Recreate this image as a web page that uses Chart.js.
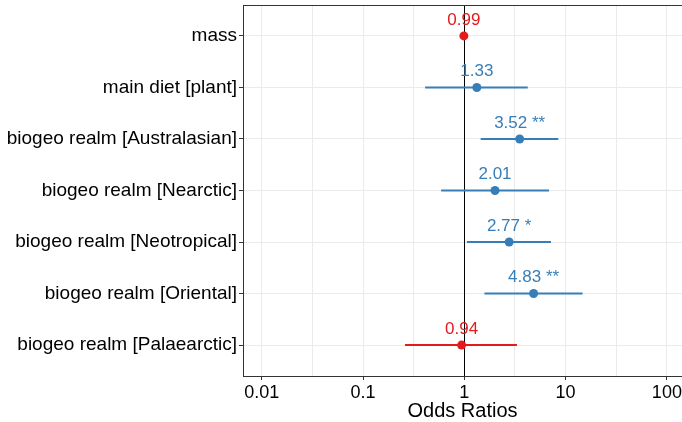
<!DOCTYPE html>
<html>
<head>
<meta charset="utf-8">
<script src="https://cdn.jsdelivr.net/npm/chart.js@4.4.1/dist/chart.umd.min.js"></script>
<style>
  body { margin: 0; background: #fff; }
  #wrap { width: 682px; height: 422px; }
</style>
</head>
<body>
<div id="wrap"><canvas id="chart"></canvas></div>
<script>
const terms = ['mass', 'main diet [plant]', 'biogeo realm [Australasian]', 'biogeo realm [Nearctic]',
  'biogeo realm [Neotropical]', 'biogeo realm [Oriental]', 'biogeo realm [Palaearctic]'];
const estimates = [0.99, 1.33, 3.52, 2.01, 2.77, 4.83, 0.94];
const ciLow = [0.98, 0.41, 1.45, 0.59, 1.06, 1.58, 0.26];
const ciHigh = [1.00, 4.23, 8.47, 6.86, 7.17, 14.7, 3.31];
const stars = ['', '', ' **', '', ' *', ' **', ''];
const tickValues = [0.01, 0.1, 1, 10, 100];
const tickLabels = ['0.01', '0.1', '1', '10', '100'];

const BLUE = '#377EB8';
const RED = '#E41A1C';
const colors = estimates.map(v => v < 1 ? RED : BLUE);
const FONT = "'Liberation Sans', Arial, sans-serif";

// x grid: decades plus half-decade minor lines
const gridValues = [];
tickValues.forEach((v, i) => {
  gridValues.push(v);
  if (i < tickValues.length - 1) gridValues.push(v * Math.sqrt(10));
});

const datasets = [{
  type: 'scatter',
  data: estimates.map((v, i) => ({ x: v, y: i + 1 })),
  pointRadius: 4.5,
  pointHoverRadius: 4.5,
  pointBackgroundColor: colors,
  pointBorderColor: colors,
  pointBorderWidth: 0
}];
terms.forEach((t, i) => {
  datasets.push({
    type: 'line',
    data: [{ x: ciLow[i], y: i + 1 }, { x: ciHigh[i], y: i + 1 }],
    borderColor: colors[i],
    borderWidth: 2,
    pointRadius: 0,
    fill: false
  });
});

const extras = {
  id: 'extras',
  beforeDatasetsDraw(chart) {
    const { ctx, chartArea: a, scales: { x } } = chart;
    const px = Math.round(x.getPixelForValue(1)) + 0.5;
    ctx.save();
    ctx.strokeStyle = '#000';
    ctx.lineWidth = 1;
    ctx.beginPath();
    ctx.moveTo(px, a.top);
    ctx.lineTo(px, a.bottom);
    ctx.stroke();
    ctx.restore();
  },
  afterDatasetsDraw(chart) {
    const { ctx, chartArea: a, scales: { x, y } } = chart;
    ctx.save();
    ctx.font = '17px ' + FONT;
    ctx.textAlign = 'center';
    ctx.textBaseline = 'middle';
    estimates.forEach((v, i) => {
      ctx.fillStyle = colors[i];
      ctx.fillText(v.toFixed(2) + stars[i], x.getPixelForValue(v), y.getPixelForValue(i + 1) - 16);
    });
    ctx.strokeStyle = '#333';
    ctx.lineWidth = 1;
    ctx.strokeRect(a.left + 0.5, a.top + 0.5, a.right - a.left, a.bottom - a.top);
    ctx.restore();
  }
};

new Chart(document.getElementById('chart'), {
  data: { datasets },
  options: {
    responsive: true,
    maintainAspectRatio: false,
    animation: false,
    layout: { autoPadding: false, padding: { top: 5, right: 0, left: 0, bottom: 0 } },
    plugins: { legend: { display: false }, tooltip: { enabled: false } },
    scales: {
      x: {
        type: 'logarithmic',
        min: 0.00653,
        max: 141,
        afterBuildTicks(scale) { scale.ticks = gridValues.map(v => ({ value: v })); },
        afterFit(scale) {
          scale.height = 46;
          scale.paddingLeft = 0;
          scale.paddingRight = 0;
        },
        ticks: {
          autoSkip: false,
          maxRotation: 0,
          padding: 2,
          color: '#000',
          font: { family: FONT, size: 18 },
          callback(v) {
            const k = tickValues.findIndex(t => Math.abs(t - v) / t < 1e-6);
            return k >= 0 ? tickLabels[k] : '';
          }
        },
        grid: {
          color: '#ebebeb',
          lineWidth: 1,
          tickLength: 4,
          tickColor(c) {
            const v = c.tick && c.tick.value;
            return tickValues.some(t => Math.abs(t - v) / t < 1e-6) ? '#333' : 'rgba(0,0,0,0)';
          }
        },
        border: { display: true, color: '#333' },
        title: {
          display: true,
          text: 'Odds Ratios',
          color: '#000',
          font: { family: FONT, size: 20 },
          padding: { top: 0, bottom: -1 }
        }
      },
      y: {
        type: 'linear',
        reverse: true,
        min: 0.4,
        max: 7.6,
        afterBuildTicks(scale) { scale.ticks = terms.map((t, i) => ({ value: i + 1 })); },
        afterFit(scale) {
          scale.width = 243;
          scale.paddingTop = 0;
          scale.paddingBottom = 0;
        },
        ticks: {
          autoSkip: false,
          padding: 2,
          color: '#000',
          font: { family: FONT, size: 19 },
          callback(v) { return terms[v - 1] || ''; }
        },
        grid: { color: '#ebebeb', lineWidth: 1, tickLength: 4, tickColor: '#333' },
        border: { display: true, color: '#333' }
      }
    }
  },
  plugins: [extras]
});
</script>
</body>
</html>
